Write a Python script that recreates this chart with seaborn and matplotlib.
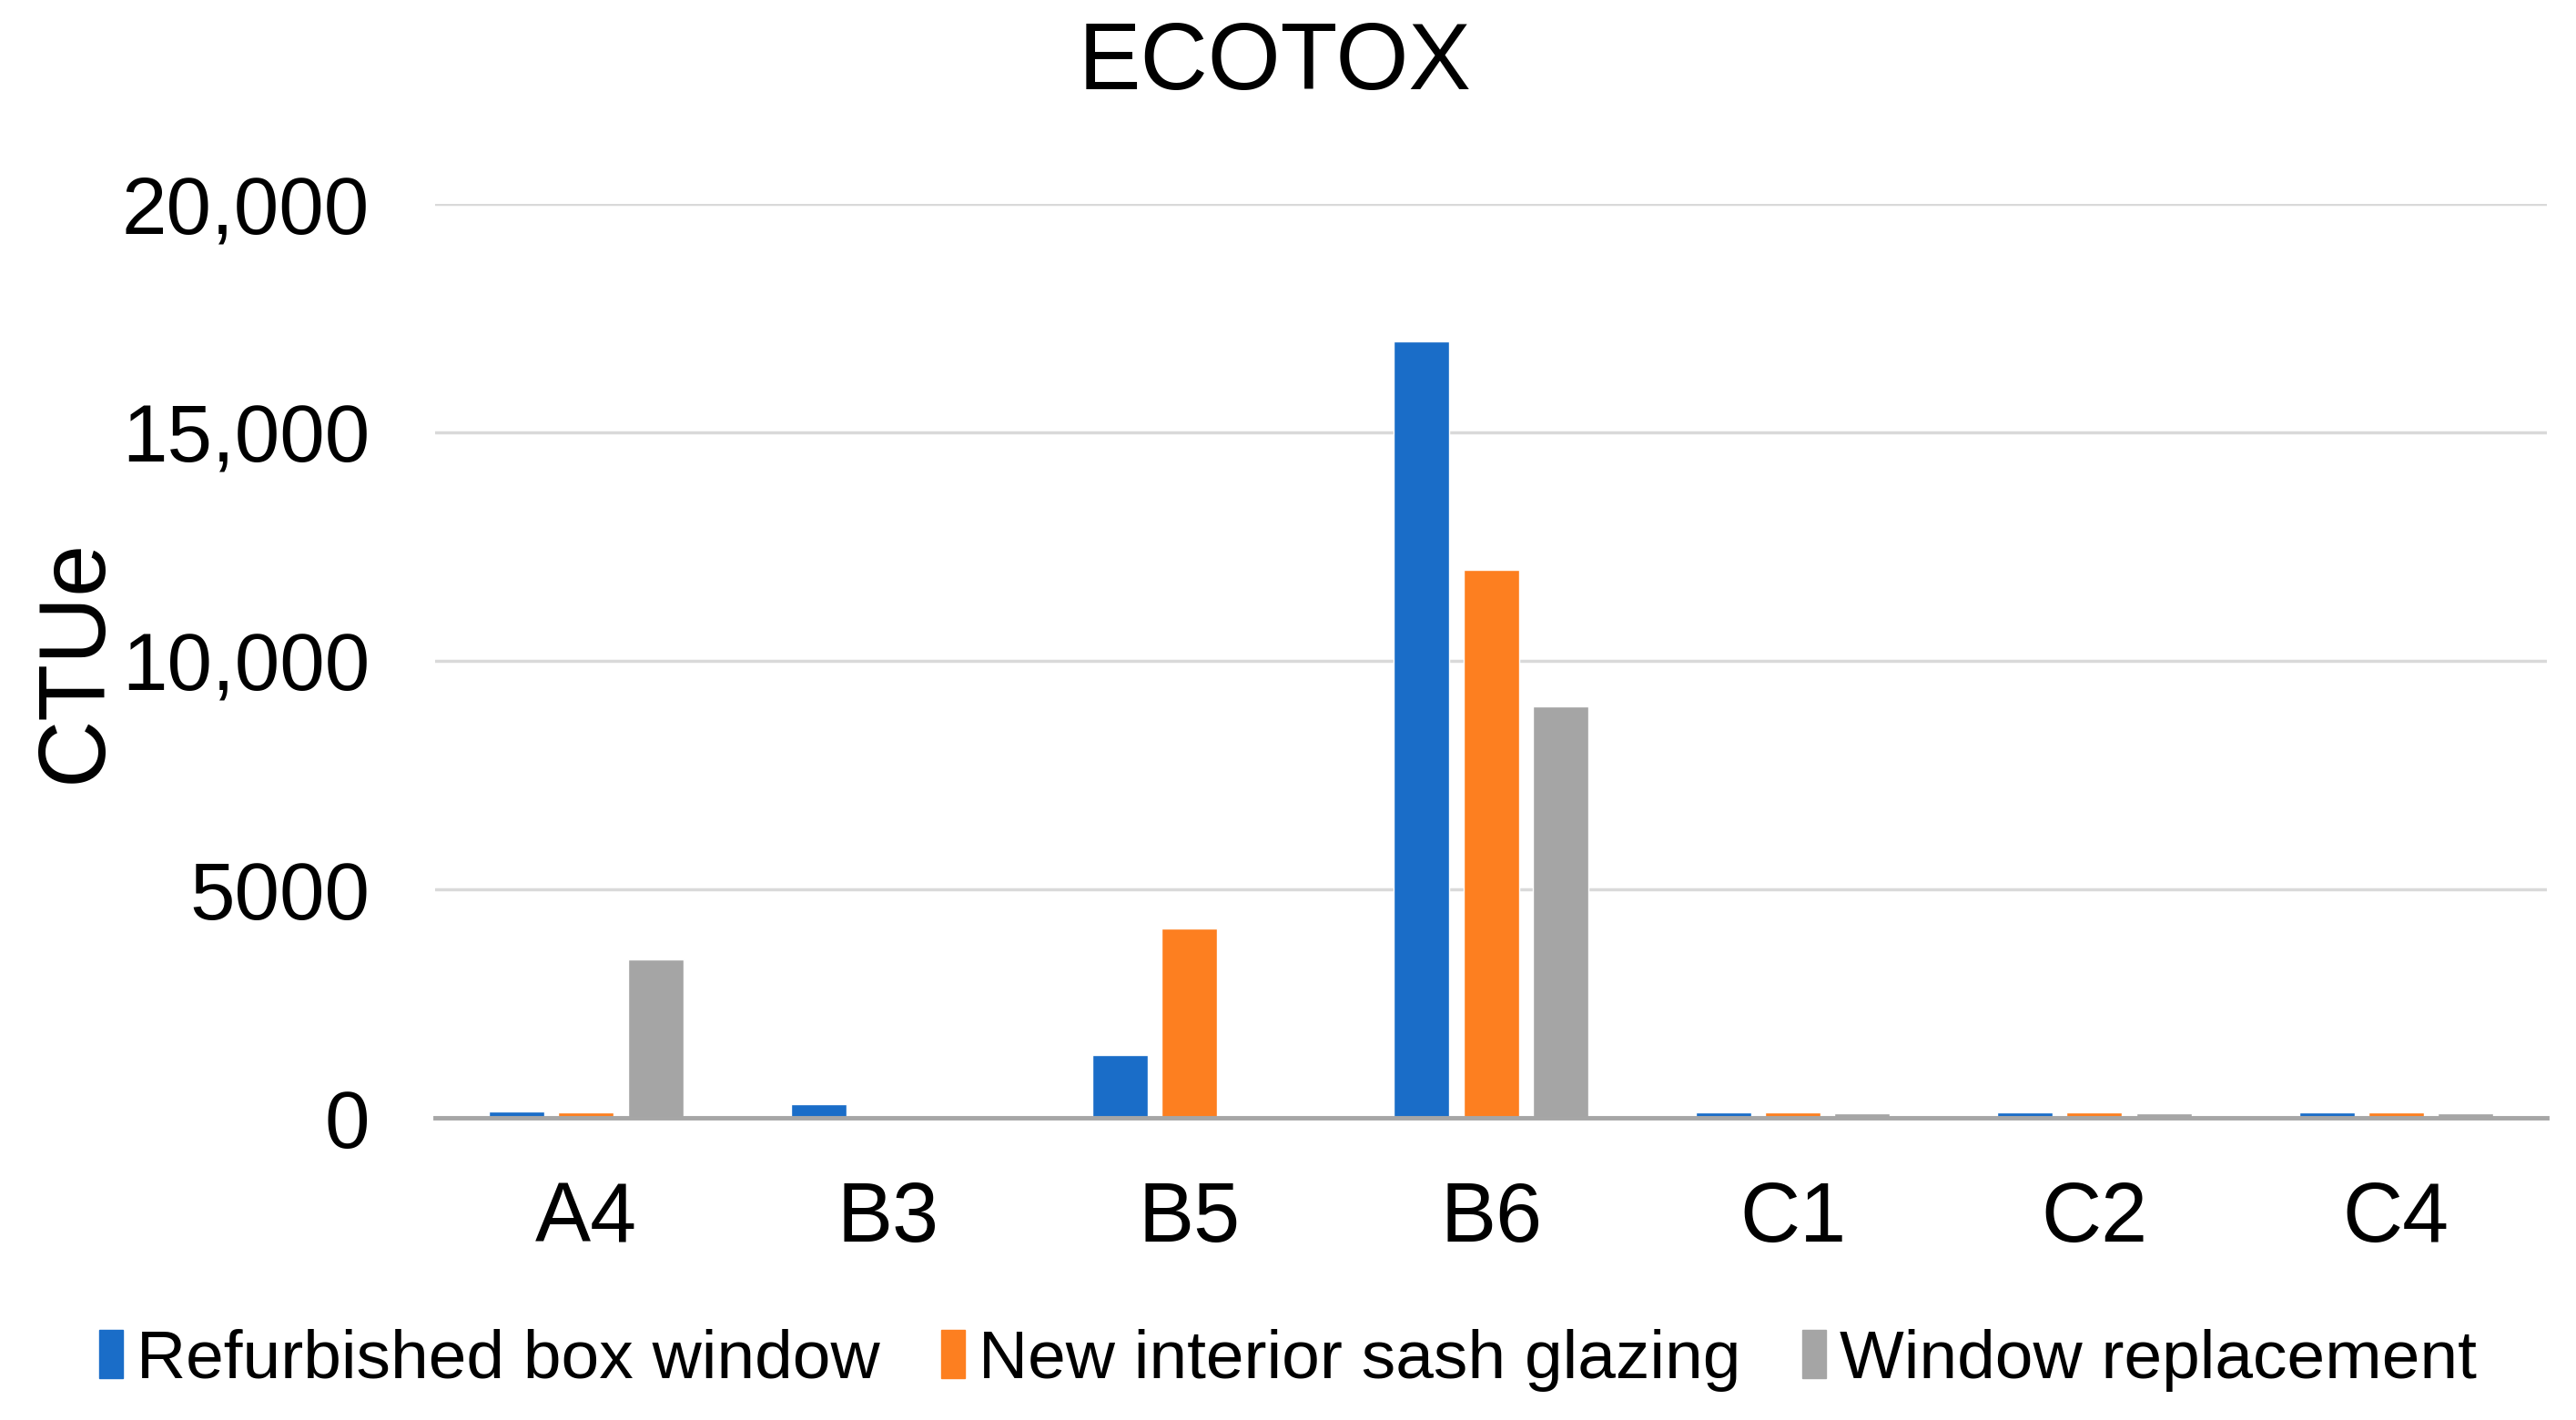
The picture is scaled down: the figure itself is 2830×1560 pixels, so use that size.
import pandas as pd
import seaborn as sns
import matplotlib.pyplot as plt
from matplotlib.patches import Patch

# data
stages = ["A4", "B3", "B5", "B6", "C1", "C2", "C4"]
refurbished = [140, 300, 1370, 17000, 120, 120, 120]
sash_glazing = [130, 0, 4140, 12000, 120, 120, 120]
replacement = [3460, 0, 0, 9000, 110, 110, 110]
series_names = ["Refurbished box window", "New interior sash glazing", "Window replacement"]
yticks = [0, 5000, 10000, 15000, 20000]
ytick_labels = ["0", "5000", "10,000", "15,000", "20,000"]
colors = ["#1a6dc8", "#fd7f20", "#a5a5a5"]

df = pd.DataFrame({"stage": stages * 3,
                   "value": refurbished + sash_glazing + replacement,
                   "series": [s for s in series_names for _ in stages]})

sns.set_style("white")
plt.rcParams["font.family"] = ["Liberation Sans", "DejaVu Sans"]
plt.rcParams["text.color"] = "black"

fig = plt.figure(figsize=(28.3, 15.6), dpi=100)
ax = fig.add_axes([0.169, 0.2128, 0.8197, 0.6436])

sns.barplot(data=df, x="stage", y="value", hue="series", palette=colors,
            width=0.69, gap=0.2, ax=ax, legend=False, saturation=1)

ax.set_xlim(-0.5, 6.5)
ax.set_ylim(0, 20000)
ax.set_yticks(yticks)
ax.set_yticklabels(ytick_labels)
ax.yaxis.grid(True, color="#d9d9d9", linewidth=2.5)
ax.set_axisbelow(True)
for s in ["top", "right", "left"]:
    ax.spines[s].set_visible(False)
ax.spines["bottom"].set_color("#a6a6a6")
ax.spines["bottom"].set_linewidth(3.5)
ax.tick_params(axis="both", length=0, labelsize=66, colors="black")
ax.tick_params(axis="x", pad=50)
ax.tick_params(axis="y", pad=52, labelsize=64)
ax.set_xlabel("")
ax.set_ylabel("CTUe", fontsize=74, color="black")
ax.yaxis.set_label_coords(-0.149, 0.5)

fig.suptitle("ECOTOX", x=0.495, y=0.985, fontsize=74, va="top", color="black")

handles = [Patch(color=c, label=n) for c, n in zip(colors, series_names)]
fig.legend(handles=handles, loc="center", bbox_to_anchor=(0.5, 0.042), ncol=3,
           frameon=False, fontsize=54, handlelength=0.35, handleheight=0.7,
           handletextpad=0.2, columnspacing=0.9)

fig.savefig("out.png", dpi=100)
